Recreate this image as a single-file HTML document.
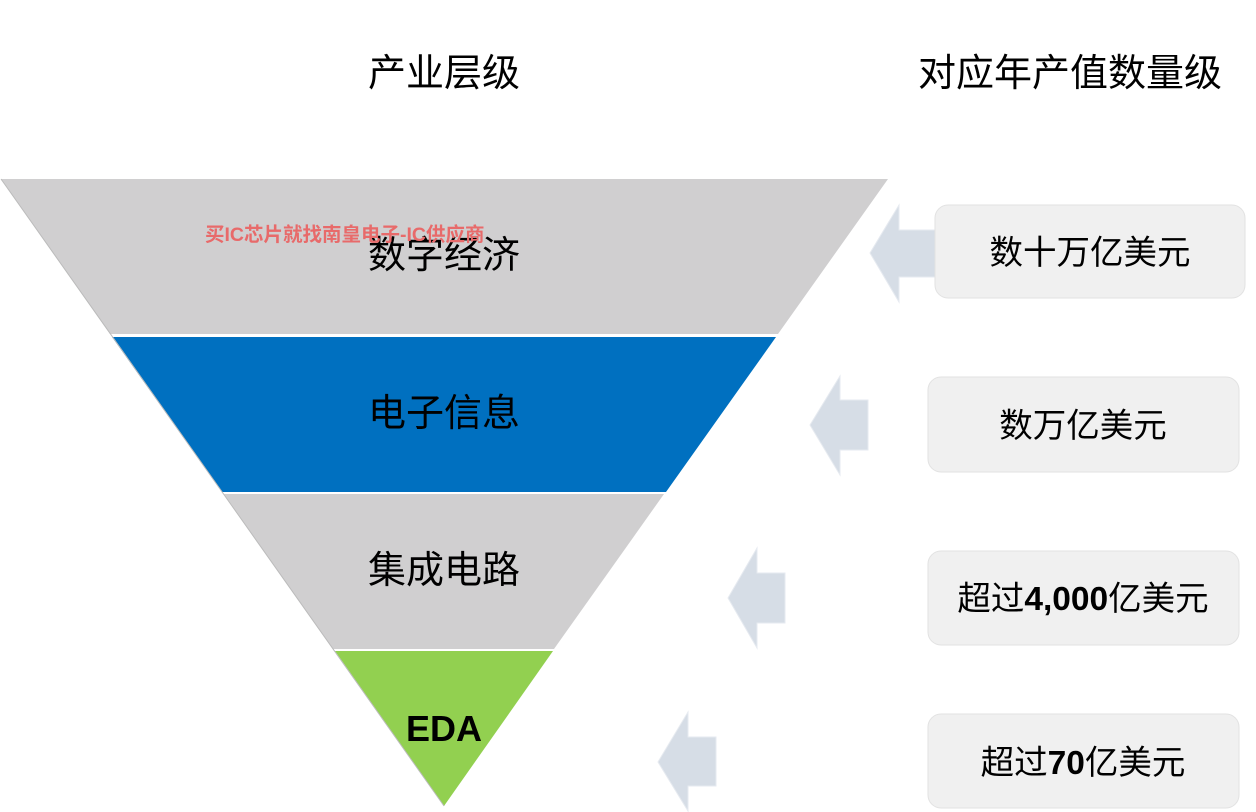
<!DOCTYPE html>
<html><head><meta charset="utf-8"><style>
body{margin:0;background:#fff;width:1256px;height:812px;overflow:hidden}
svg{display:block}
text{font-family:"Liberation Sans","Noto Sans CJK SC",sans-serif;fill:#000}
</style></head><body>
<svg width="1256" height="812" viewBox="0 0 1256 812">
<text x="444" y="86" font-size="38" text-anchor="middle">产业层级</text>
<text x="1070" y="86" font-size="38" text-anchor="middle">对应年产值数量级</text>
<polygon points="1,179 888,179 778,334 110,334" fill="#d0cfd0"/>
<polygon points="112,337 776,337 666,492 222,492" fill="#0070c0"/>
<polygon points="224,494 664,494 554,649 333,649" fill="#d0cfd0"/>
<polygon points="335,651 553,651 444,806" fill="#92d050"/>
<line x1="1" y1="179" x2="444" y2="806" stroke="#bbb" stroke-width="1"/>
<text x="444" y="268" font-size="38" text-anchor="middle">数字经济</text>
<text x="444" y="426" font-size="38" text-anchor="middle">电子信息</text>
<text x="444" y="583" font-size="38" text-anchor="middle">集成电路</text>
<text x="444" y="741" font-size="36" font-weight="bold" text-anchor="middle">EDA</text>
<text x="205" y="241" font-size="19.5" font-weight="bold" style="fill:#e86a6a">买IC芯片就找南皇电子-IC供应商</text>
<g fill="#d6dde6" stroke="#e6eaf0" stroke-width="1">
<polygon points="870,253 899,205 899,230 935,230 935,277 899,277 899,302"/>
<polygon points="810,425 840,376 840,400 868,400 868,450 840,450 840,475"/>
<polygon points="728,598 757,548 757,573 785,573 785,623 757,623 757,648"/>
<polygon points="658,762 688,712 688,737 716,737 716,786 688,786 688,811"/>
</g>
<g fill="#f0f0f0" stroke="#e2e2e2">
<rect x="935" y="205" width="310" height="93" rx="13"/>
<rect x="928" y="377" width="311" height="95" rx="13"/>
<rect x="928" y="551" width="311" height="94" rx="13"/>
<rect x="928" y="714" width="311" height="94" rx="13"/>
</g>
<text x="1090" y="264" font-size="33.5" text-anchor="middle">数十万亿美元</text>
<text x="1083" y="437" font-size="33.5" text-anchor="middle">数万亿美元</text>
<text x="1083" y="610" font-size="33.5" text-anchor="middle">超过<tspan font-weight="bold">4,000</tspan>亿美元</text>
<text x="1083" y="774" font-size="33.5" text-anchor="middle">超过<tspan font-weight="bold">70</tspan>亿美元</text>
</svg>
</body></html>
